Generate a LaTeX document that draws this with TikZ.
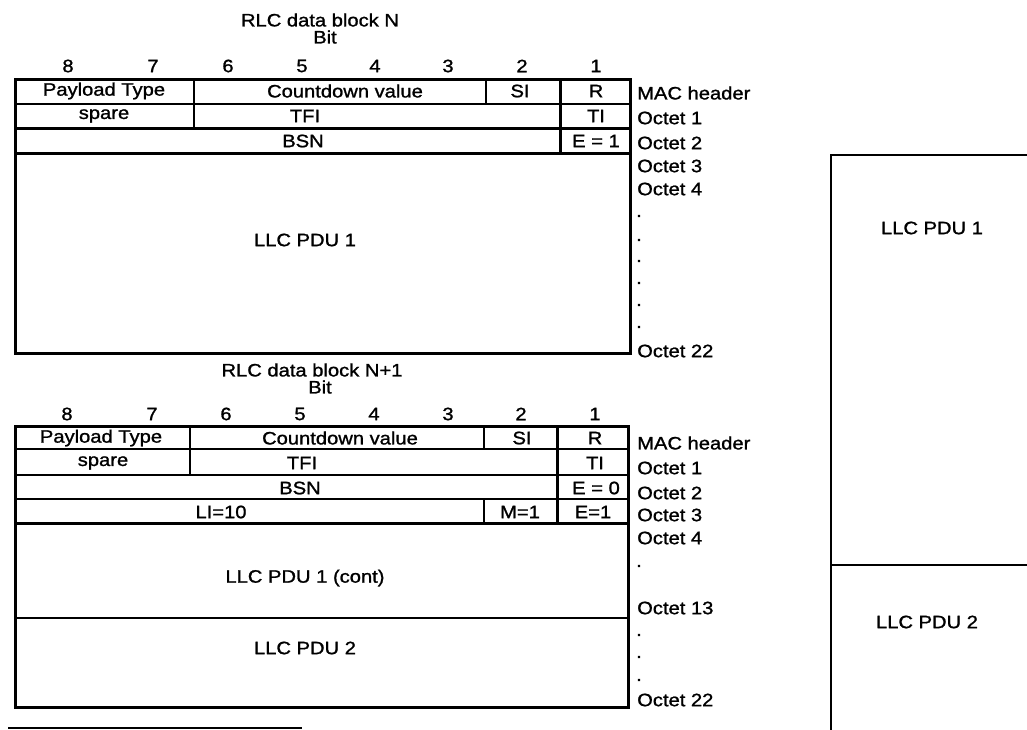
\documentclass[tikz,border=0pt]{standalone}
\usepackage{fontspec}
\setmainfont{Liberation Sans}[FakeStretch=1.12,FakeBold=1.2]
\begin{document}
\begin{tikzpicture}[x=1pt,y=-1pt,
  txt/.style={font=\fontsize{18}{20}\selectfont, inner sep=0pt, anchor=center},
  side/.style={font=\fontsize{18}{20}\selectfont, inner sep=0pt, anchor=west},
  frame/.style={line width=3pt},
  grid/.style={line width=2.4pt}]
\useasboundingbox (0,0) rectangle (1027,730);

% ---------- Block N ----------
\node[txt] (t1) at (320,20) {RLC data block N};
\node[txt] (b1) at (325,37) {Bit};
\foreach \n/\x in {8/68,7/153,6/228,5/302,4/375,3/448,2/522,1/596}
  \node[txt] (a\n) at (\x,66) {\n};
\draw[frame] (15,80) rectangle (630,353);
\draw[grid] (15,104) -- (630,104);
\draw[grid] (15,128.5) -- (630,128.5);
\draw[grid] (15,153.5) -- (630,153.5);
\draw[grid] (194,80) -- (194,128.5);
\draw[grid] (486,80) -- (486,104);
\draw[frame] (560,80) -- (560,153.5);
\node[txt] (pt1) at (104,91) {Payload Type};
\node[txt] (cv1) at (345,91) {Countdown value};
\node[txt] (si1) at (520,91) {SI};
\node[txt] (r1) at (596,91) {R};
\node[txt] (sp1) at (104,116) {spare};
\node[txt] (tfi1) at (305,116) {TFI};
\node[txt] (ti1) at (596,116) {TI};
\node[txt] (bsn1) at (303,141) {BSN};
\node[txt] (e1) at (596,141) {E = 1};
\node[txt] (pdu1) at (305,240) {LLC PDU 1};
\node[side] (m1) at (637,93) {MAC header};
\node[side] (o11) at (637,118) {Octet 1};
\node[side] (o12) at (637,143) {Octet 2};
\node[side] (o13) at (637,166) {Octet 3};
\node[side] (o14) at (637,189) {Octet 4};
\foreach \y [count=\i] in {216,240,261,283,305,327}
  \node[side] (d1\i) at (636,\y) {.};
\node[side] (o122) at (637,351) {Octet 22};

% ---------- Block N+1 ----------
\node[txt] (t2) at (312,370) {RLC data block N+1};
\node[txt] (b2) at (320,387) {Bit};
\foreach \n/\x in {8/67,7/152,6/226,5/300,4/374,3/448,2/521,1/595}
  \node[txt] (c\n) at (\x,414) {\n};
\draw[frame] (15,426) rectangle (628,707);
\draw[grid] (15,449) -- (628,449);
\draw[grid] (15,475) -- (628,475);
\draw[grid] (15,499) -- (628,499);
\draw[grid] (15,523.5) -- (628,523.5);
\draw[grid] (15,618) -- (628,618);
\draw[grid] (190,426) -- (190,475);
\draw[grid] (484,426) -- (484,449);
\draw[grid] (484,499) -- (484,523.5);
\draw[frame] (557,426) -- (557,523.5);
\node[txt] (pt2) at (101,438) {Payload Type};
\node[txt] (cv2) at (340,438) {Countdown value};
\node[txt] (si2) at (522,438) {SI};
\node[txt] (r2) at (595,438) {R};
\node[txt] (sp2) at (103,463) {spare};
\node[txt] (tfi2) at (302,463) {TFI};
\node[txt] (ti2) at (595,463) {TI};
\node[txt] (bsn2) at (300,488) {BSN};
\node[txt] (e20) at (596,488) {E = 0};
\node[txt] (li2) at (221,512) {LI=10};
\node[txt] (m2) at (520,512) {M=1};
\node[txt] (e21) at (593,512) {E=1};
\node[txt] (pdu1c) at (305,578) {LLC PDU 1 (cont)};
\node[txt] (pdu2) at (305,648) {LLC PDU 2};
\node[side] (mh2) at (637,443) {MAC header};
\node[side] (o21) at (637,468) {Octet 1};
\node[side] (o22) at (637,493) {Octet 2};
\node[side] (o23) at (637,515) {Octet 3};
\node[side] (o24) at (637,538) {Octet 4};
\node[side] (d21) at (636,566) {.};
\node[side] (o213) at (637,608) {Octet 13};
\foreach \y [count=\i] in {635,657,680}
  \node[side] (d3\i) at (636,\y) {.};
\node[side] (o222) at (637,700) {Octet 22};

\draw[grid] (8,728) -- (302,728);

% ---------- right box ----------
\draw[grid] (1027,155) -- (831,155) -- (831,730);
\draw[grid] (831,565) -- (1027,565);
\node[txt] (rp1) at (932,228) {LLC PDU 1};
\node[txt] (rp2) at (927,622) {LLC PDU 2};
\end{tikzpicture}
\end{document}
